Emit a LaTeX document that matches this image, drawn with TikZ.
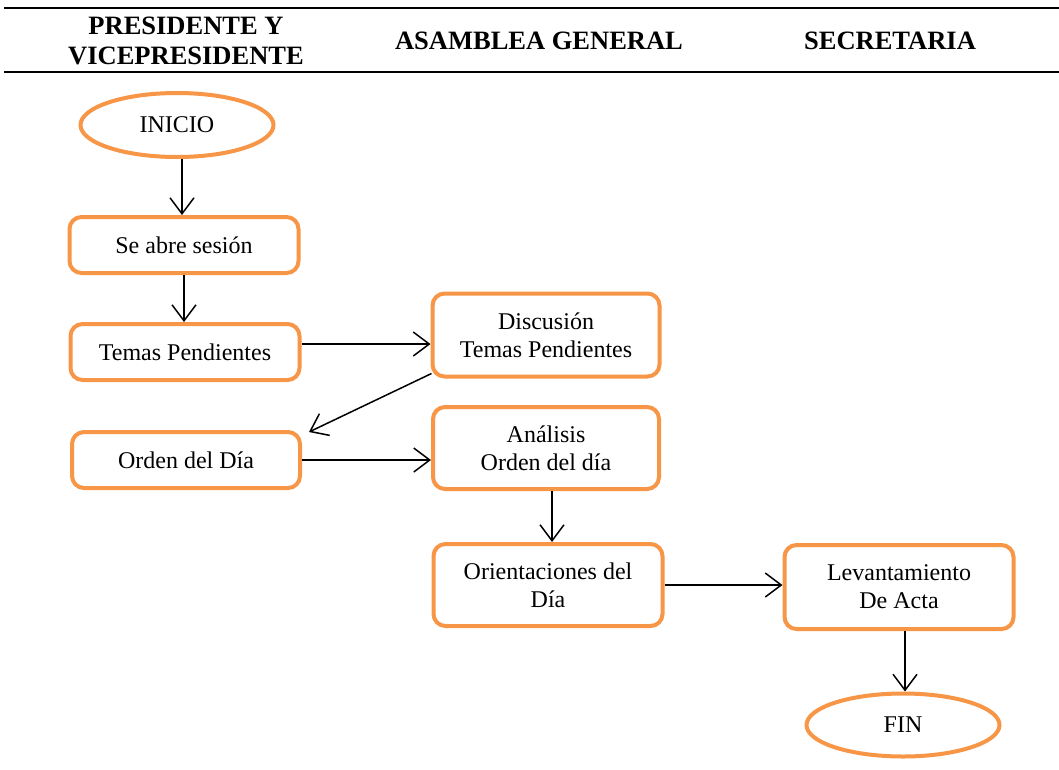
\documentclass[tikz,border=0pt]{standalone}
\usepackage{fontspec}
\setmainfont{Liberation Serif}
\usetikzlibrary{arrows.meta,calc,shapes.geometric}
\definecolor{boxorange}{HTML}{F79646}
\tikzset{
  body/.style={font=\fontsize{24}{28}\selectfont, align=center, text=black},
  head/.style={font=\fontsize{26.5}{30}\selectfont\bfseries, align=center, text=black},
  procbox/.style={body, draw=boxorange, line width=4pt, rounded corners=12pt, fill=white, inner sep=0pt},
  terminal/.style={body, draw=boxorange, line width=4pt, ellipse, inner sep=0pt, fill=white},
  arr/.style={draw=black, line width=1.5pt, -{Straight Barb[length=16pt,width=24pt,line width=1.5pt]}},
  rule/.style={line width=2pt, black}
}
\begin{document}
\begin{tikzpicture}[x=1pt,y=-1pt]
\useasboundingbox (0,0) rectangle (1059,769);
% header
\draw[rule] (4,8) -- (1059,8);
\draw[rule] (4,72) -- (1059,72);
\node[head] (h1) at (186,41) {PRESIDENTE Y\\VICEPRESIDENTE};
\node[head] (h2) at (539,41) {ASAMBLEA GENERAL};
\node[head] (h3) at (890,41) {SECRETARIA};
% nodes
\node[terminal, minimum width=193pt, minimum height=64pt] (inicio) at (177,125) {INICIO};
\node[procbox, minimum width=229pt, minimum height=56pt] (sabre) at (184,245) {Se abre sesión};
\node[procbox, minimum width=229pt, minimum height=56pt] (temas) at (185,352) {Temas Pendientes};
\node[procbox, minimum width=227pt, minimum height=83pt] (disc) at (546,335) {Discusión\\Temas Pendientes};
\node[procbox, minimum width=228pt, minimum height=56pt] (orden) at (186,460) {Orden del Día};
\node[procbox, minimum width=226pt, minimum height=82pt] (anal) at (546,448) {Análisis\\Orden del día};
\node[procbox, minimum width=229pt, minimum height=82pt] (orient) at (548,585) {Orientaciones del\\Día};
\node[procbox, minimum width=229pt, minimum height=84pt] (lev) at (899,587) {Levantamiento\\De Acta};
\node[terminal, minimum width=193pt, minimum height=63pt] (fin) at (903,725) {FIN};
% connectors
\draw[arr] ([xshift=-2pt]sabre.north |- inicio.south) -- ([xshift=-2pt]sabre.north);
\draw[arr] (sabre.south) -- (sabre.south |- temas.north);
\draw[arr] ([yshift=8pt]temas.east) -- ([yshift=8pt]temas.east -| disc.west);
\draw[arr] ([xshift=1pt,yshift=5pt]disc.south west) -- ([xshift=7pt,yshift=-2pt]orden.north east);
\draw[arr] (orden.east) -- (orden.east -| anal.west);
\draw[arr] ([xshift=6pt]anal.south) -- ([xshift=6pt]anal.south |- orient.north);
\draw[arr] (orient.east) -- (orient.east -| lev.west);
\draw[arr] ([xshift=6pt]lev.south) -- ([xshift=6pt]lev.south |- fin.north);
\end{tikzpicture}
\end{document}
